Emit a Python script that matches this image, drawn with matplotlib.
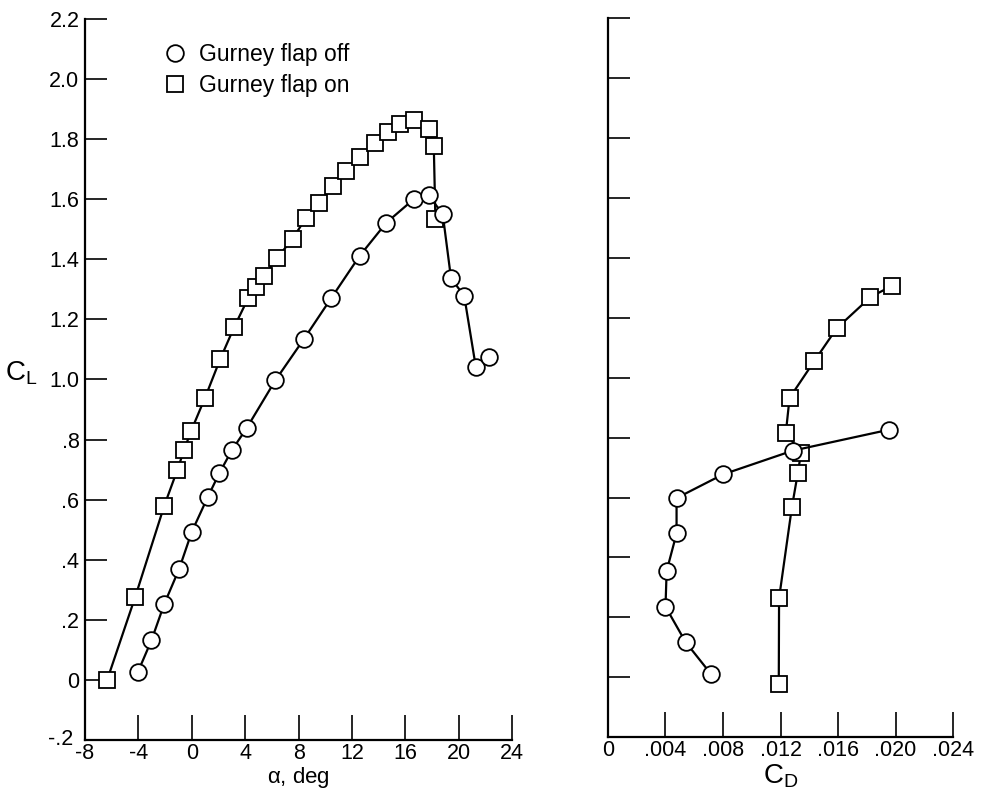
import matplotlib.pyplot as plt
import matplotlib.transforms as mtransforms
from matplotlib.lines import Line2D

plt.rcParams["font.family"] = ["Liberation Sans", "DejaVu Sans"]
plt.rcParams["mathtext.fontset"] = "custom"
plt.rcParams["mathtext.rm"] = "Liberation Sans"
plt.rcParams["mathtext.it"] = "Liberation Sans"

# lift curve, Gurney flap off
alpha_off = [-4.05, -3.02, -2.07, -0.95, 0.0, 1.19, 2.06, 3.01, 4.11, 6.26,
             8.39, 10.45, 12.57, 14.58, 16.63, 17.75, 18.80, 19.42, 20.41,
             21.28, 22.27]
cl_off = [0.025, 0.132, 0.252, 0.369, 0.493, 0.608, 0.688, 0.765, 0.838,
          0.997, 1.134, 1.271, 1.411, 1.522, 1.600, 1.613, 1.550, 1.337,
          1.278, 1.041, 1.074]

# lift curve, Gurney flap on
alpha_on = [-6.34, -4.24, -2.07, -1.09, -0.58, -0.05, 0.99, 2.13, 3.18, 4.23,
            4.83, 5.40, 6.39, 7.56, 8.56, 9.55, 10.60, 11.58, 12.57, 13.72,
            14.70, 15.59, 16.63, 17.75, 18.13, 18.25]
cl_on = [0.000, 0.276, 0.579, 0.698, 0.765, 0.829, 0.939, 1.068, 1.175, 1.271,
         1.307, 1.343, 1.404, 1.469, 1.538, 1.589, 1.645, 1.695, 1.740, 1.786,
         1.823, 1.849, 1.863, 1.834, 1.776, 1.534]

# drag polars
cd_off = [0.00719, 0.0054, 0.0040, 0.00408, 0.00477, 0.00477, 0.0080,
          0.01284, 0.01955]
cld_off = [0.010, 0.118, 0.236, 0.355, 0.480, 0.598, 0.677, 0.756, 0.826]

cd_on = [0.01188, 0.0119, 0.01279, 0.01321, 0.01343, 0.01237, 0.01263,
         0.01434, 0.01591, 0.01826, 0.01976]
cld_on = [-0.022, 0.264, 0.567, 0.683, 0.750, 0.815, 0.932, 1.054, 1.164,
          1.268, 1.306]

y_ticks = [-0.2, 0.0, 0.2, 0.4, 0.6, 0.8, 1.0, 1.2, 1.4, 1.6, 1.8, 2.0, 2.2]
y_labels = ["-.2", "0", ".2", ".4", ".6", ".8", "1.0", "1.2", "1.4", "1.6",
            "1.8", "2.0", "2.2"]
a_ticks = [-8, -4, 0, 4, 8, 12, 16, 20, 24]
cd_ticks = [0, 0.004, 0.008, 0.012, 0.016, 0.020, 0.024]
cd_labels = ["0", ".004", ".008", ".012", ".016", ".020", ".024"]

style = dict(color="black", lw=1.6, mfc="white", mec="black", mew=1.3)

fig = plt.figure(figsize=(9.83, 7.96), dpi=100)
ax1 = fig.add_axes([0.0865, 0.0704, 0.4345, 0.9058])
ax2 = fig.add_axes([0.6185, 0.0735, 0.351, 0.9045])

ax1.plot(alpha_on, cl_on, marker="s", ms=11, **style)
ax1.plot(alpha_off, cl_off, marker="o", ms=12, **style)
ax2.plot(cd_on, cld_on, marker="s", ms=11, **style)
ax2.plot(cd_off, cld_off, marker="o", ms=12, **style)

for ax in (ax1, ax2):
    ax.set_ylim(-0.2, 2.2)
    ax.set_yticks(y_ticks)
    for s in ("top", "right"):
        ax.spines[s].set_visible(False)
    for s in ("left", "bottom"):
        ax.spines[s].set_linewidth(1.6)
    ax.tick_params(axis="y", direction="in", length=16, width=1.2,
                   labelsize=15.5, pad=4)
    ax.tick_params(axis="x", direction="in", length=18, width=1.2,
                   labelsize=15.5, pad=2)

ax1.set_xlim(-8, 24)
ax1.set_xticks(a_ticks)
ax1.set_xticklabels([str(t) for t in a_ticks])
ax1.set_yticklabels(y_labels)
ax1.set_xlabel(r"$\alpha$, deg", fontsize=16, labelpad=1)
ax1.set_ylabel("C$_\\mathregular{L}$", fontsize=20, rotation=0)
ax1.yaxis.set_label_coords(-0.15, 0.49)

# nudge "-.2" so it does not run into "-8"
lab = ax1.get_yticklabels()[0]
lab.set_transform(lab.get_transform() + mtransforms.ScaledTranslation(
    -6 / 100, 3 / 100, fig.dpi_scale_trans))

ax2.set_xlim(0, 0.024)
ax2.set_xticks(cd_ticks)
ax2.set_xticklabels(cd_labels)
ax2.set_yticklabels([])
ax2.set_xlabel("C$_\\mathregular{D}$", fontsize=20, labelpad=1)

handles = [
    Line2D([], [], ls="none", marker="o", ms=12, mfc="white", mec="black",
           mew=1.3),
    Line2D([], [], ls="none", marker="s", ms=11, mfc="white", mec="black",
           mew=1.3),
]
ax1.legend(handles, ["Gurney flap off", "Gurney flap on"], loc="upper left",
           bbox_to_anchor=(0.135, 0.98), frameon=False, fontsize=16.5,
           handletextpad=0.05, labelspacing=0.35, borderaxespad=0)

fig.savefig("out.png", dpi=100)
